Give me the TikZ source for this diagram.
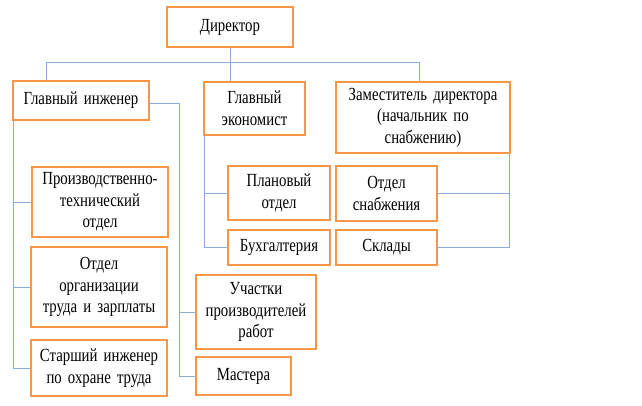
\documentclass[tikz,border=0pt]{standalone}
\usepackage{fontspec}
\setmainfont[FakeStretch=0.8]{Liberation Serif}
\definecolor{boxor}{HTML}{F79646}
\definecolor{linebl}{HTML}{8EAADB}
\newcommand\boxfont{\fontsize{18.5}{21.5}\selectfont}
\begin{document}
\begin{tikzpicture}[x=1pt,y=-1pt,
  box/.style={draw=boxor,line width=2.2pt,fill=white,inner sep=0pt,align=center,
    font=\boxfont},
  conn/.style={draw=linebl,line width=1pt}]
\useasboundingbox (0,0) rectangle (642,405);
\newcommand\bx[6]{\node[box,minimum width=#4pt,minimum height=#5pt,text width=#4pt] (#1) at (#2,#3) {#6};}
\bx{dir}{230}{27}{126}{40}{Директор}
\bx{gi}{81}{100.5}{136}{39}{Главный инженер}
\bx{ge}{254.5}{108.5}{101}{53}{Главный\\экономист}
\bx{zam}{423}{117.5}{174}{71}{Заместитель директора\\(начальник по\\снабжению)}
\bx{pto}{100}{202}{136}{70}{Производственно-\\технический\\отдел}
\bx{oot}{99}{287}{136}{80}{Отдел\\организации\\труда и зарплаты}
\bx{sio}{99}{368}{136}{56}{Старший инженер\\по охране труда}
\bx{uch}{256}{312}{120}{74}{Участки\\производителей\\работ}
\bx{mas}{243.5}{376}{95}{38}{Мастера}
\bx{plan}{279}{193}{102}{54}{Плановый\\отдел}
\bx{buh}{279}{247.5}{102}{35}{Бухгалтерия}
\bx{os}{386.5}{193.5}{101}{55}{Отдел\\снабжения}
\bx{skl}{386.5}{247.5}{101}{35}{Склады}
\coordinate (hl) at (46,62);
\coordinate (hr) at (419,62);
\coordinate (gx) at (179,103);
\coordinate (lx) at (13,120);
\coordinate (ex) at (204,135);
\coordinate (zx) at (509,153);
\draw[conn] (dir.south) -- (dir.south |- ge.north);
\draw[conn] (hl |- gi.north) -- (hl) -- (hr) -- (hr |- zam.north);
\draw[conn] (gi.east |- gx) -- (gx) -- (gx |- mas.west) -- (mas.west);
\draw[conn] (gx |- uch.west) -- (uch.west);
\draw[conn] (lx) -- (lx |- sio.west) -- (sio.west);
\draw[conn] (lx |- pto.west) -- (pto.west);
\draw[conn] (lx |- oot.west) -- (oot.west);
\draw[conn] (ex) -- (ex |- buh.west) -- (buh.west);
\draw[conn] (ex |- plan.west) -- (plan.west);
\draw[conn] (zx) -- (zx |- skl.east) -- (skl.east);
\draw[conn] (zx |- os.east) -- (os.east);
\end{tikzpicture}
\end{document}
